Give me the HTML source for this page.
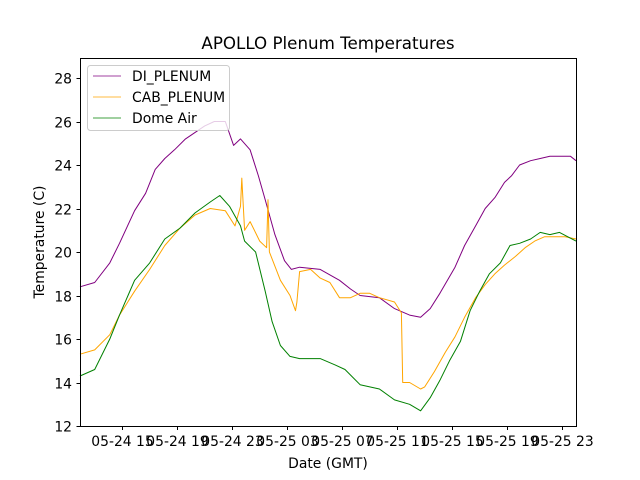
<!DOCTYPE html>
<html><head><meta charset="utf-8">
<style>
html,body{margin:0;padding:0;background:#fff;}
svg{display:block;font-family:"DejaVu Sans","Liberation Sans",sans-serif;}
</style></head>
<body>
<svg id="chart" width="640" height="480" viewBox="0 0 640 480">
<rect x="0" y="0" width="640" height="480" fill="#fff"/>
<text x="328" y="49" text-anchor="middle" font-size="16.7">APOLLO Plenum Temperatures</text>
<g id="marks"></g>
<rect x="80.5" y="58.5" width="496" height="368" fill="none" stroke="#000" stroke-width="1"/>
<g id="axes"></g>
<text x="328" y="468" text-anchor="middle" font-size="13.9">Date (GMT)</text>
<text transform="translate(44,242) rotate(-90)" text-anchor="middle" font-size="13.9">Temperature (C)</text>
<g>
<rect x="87.5" y="65.5" width="142" height="65" rx="3" fill="#fff" fill-opacity="0.8" stroke="#ccc"/>
<line x1="93" y1="76" x2="121" y2="76" stroke="purple" stroke-width="0.8"/>
<text x="132" y="81" font-size="13.9">DI_PLENUM</text>
<line x1="93" y1="97" x2="121" y2="97" stroke="orange" stroke-width="0.8"/>
<text x="132" y="102" font-size="13.9">CAB_PLENUM</text>
<line x1="93" y1="118" x2="121" y2="118" stroke="green" stroke-width="0.8"/>
<text x="132" y="123" font-size="13.9">Dome Air</text>
</g>
</svg>
<script>
// hours since 05-24 12:00 GMT
const xTickHours = [3,7,11,15,19,23,27,31,35];
const xTickLabels = ["05-24 15","05-24 19","05-24 23","05-25 03","05-25 07","05-25 11","05-25 15","05-25 19","05-25 23"];
const yTicks = [12,14,16,18,20,22,24,26,28];

const diHours = [-0.07,1.0,2.1,2.8,3.9,4.7,5.4,6.1,6.8,7.6,8.3,9.0,9.7,10.5,11.1,11.6,12.3,12.9,13.4,14.1,14.8,15.3,15.9,17.4,18.8,19.6,20.3,21.7,22.8,23.9,24.7,25.4,26.1,27.2,27.9,28.7,29.4,30.1,30.8,31.3,31.9,32.7,33.4,34.1,34.8,35.6,36.0];
const diTemps = [18.4,18.6,19.5,20.4,21.9,22.7,23.8,24.3,24.7,25.2,25.5,25.8,26.0,26.0,24.9,25.2,24.7,23.5,22.4,20.8,19.6,19.2,19.3,19.2,18.7,18.3,18.0,17.9,17.4,17.1,17.0,17.4,18.1,19.3,20.3,21.2,22.0,22.5,23.2,23.5,24.0,24.2,24.3,24.4,24.4,24.4,24.2];

const cabHours = [-0.07,1.0,2.1,2.8,3.9,5.0,6.1,7.2,8.3,9.4,10.5,11.2,11.6,11.7,11.9,12.3,13.0,13.5,13.6,13.7,14.5,15.2,15.6,15.7,15.9,16.7,17.4,18.1,18.8,19.6,20.3,21.0,21.7,22.8,23.3,23.4,23.9,24.7,25.0,25.7,26.5,27.2,27.9,28.7,29.4,30.1,30.8,31.6,32.3,33.0,33.7,34.5,35.2,36.0];
const cabTemps = [15.3,15.5,16.2,17.1,18.2,19.2,20.3,21.1,21.7,22.0,21.9,21.2,22.1,23.4,21.0,21.4,20.5,20.2,22.4,20.0,18.7,18.0,17.3,17.7,19.1,19.2,18.8,18.6,17.9,17.9,18.1,18.1,17.9,17.7,17.2,14.0,14.0,13.7,13.8,14.5,15.4,16.1,17.0,17.9,18.5,19.0,19.4,19.8,20.2,20.5,20.7,20.7,20.7,20.6];

const domeHours = [-0.07,1.0,2.1,2.8,3.9,5.0,6.1,7.2,8.3,9.4,10.1,10.8,11.6,11.9,12.7,13.4,13.9,14.5,15.2,15.9,17.4,18.5,19.2,20.3,21.7,22.8,23.9,24.7,25.4,26.1,26.8,27.6,28.3,29.0,29.7,30.5,31.2,31.9,32.7,33.4,34.1,34.8,36.0];
const domeTemps = [14.3,14.6,16.0,17.1,18.7,19.5,20.6,21.1,21.8,22.3,22.6,22.1,21.2,20.5,20.0,18.2,16.8,15.7,15.2,15.1,15.1,14.8,14.6,13.9,13.7,13.2,13.0,12.7,13.3,14.1,15.0,15.9,17.3,18.2,19.0,19.5,20.3,20.4,20.6,20.9,20.8,20.9,20.5];

const X0=80, X1=576, Y0=426, Y1=58;
const xMin=-0.07, xMax=36.0, yMin=12, yMax=28.92;
function xs(h){return X0+(h-xMin)/(xMax-xMin)*(X1-X0);}
function ys(v){return Y0-(v-yMin)/(yMax-yMin)*(Y0-Y1);}
const NS="http://www.w3.org/2000/svg";
const axes=document.getElementById('axes');
const marks=document.getElementById('marks');

xTickHours.forEach((h,i)=>{
  const x=Math.round(xs(h))+0.5;
  const t=document.createElementNS(NS,'line');
  t.setAttribute('x1',x);t.setAttribute('x2',x);t.setAttribute('y1',426.5);t.setAttribute('y2',430);
  t.setAttribute('stroke','#000');
  
  
  axes.appendChild(t);
  const l=document.createElementNS(NS,'text');
  l.setAttribute('x',x);l.setAttribute('y',446);l.setAttribute('text-anchor','middle');l.setAttribute('font-size','13.9');
  l.textContent=xTickLabels[i];
  
  
  axes.appendChild(l);
});
yTicks.forEach(v=>{
  const y=Math.round(ys(v))+0.5;
  const t=document.createElementNS(NS,'line');
  t.setAttribute('x1',76.5);t.setAttribute('x2',80.5);t.setAttribute('y1',y);t.setAttribute('y2',y);
  t.setAttribute('stroke','#000');
  
  
  axes.appendChild(t);
  const l=document.createElementNS(NS,'text');
  l.setAttribute('x',72);l.setAttribute('y',y+5);l.setAttribute('text-anchor','end');l.setAttribute('font-size','13.9');
  l.textContent=v;
  
  
  axes.appendChild(l);
});
function series(hs,ts,color,name){
  const p=document.createElementNS(NS,'polyline');
  p.setAttribute('points',hs.map((h,i)=>xs(h).toFixed(1)+','+ys(ts[i]).toFixed(1)).join(' '));
  p.setAttribute('fill','none');p.setAttribute('stroke',color);p.setAttribute('stroke-width','1');
  p.setAttribute('stroke-linejoin','round');
  
  
  marks.appendChild(p);
}
series(diHours,diTemps,'purple','di-plenum-line');
series(cabHours,cabTemps,'orange','cab-plenum-line');
series(domeHours,domeTemps,'green','dome-air-line');
</script>
</body></html>
